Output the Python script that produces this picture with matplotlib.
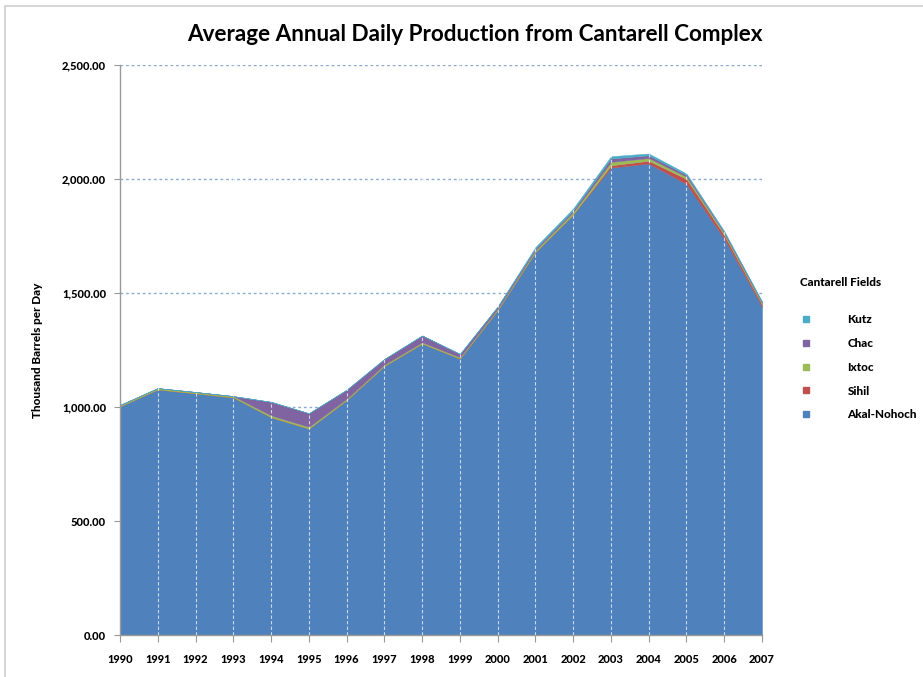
import numpy as np
import matplotlib.pyplot as plt
from matplotlib.lines import Line2D
from matplotlib.patches import Rectangle

plt.rcParams['font.family'] = ['Lato', 'DejaVu Sans']

years = list(range(1990, 2008))

# Thousand barrels per day by field
akal_nohoch = [1003, 1077, 1060, 1042, 955, 905, 1030, 1180, 1278, 1212,
               1425, 1680, 1845, 2050, 2068, 1978, 1738, 1440]
sihil = [0, 0, 0, 0, 0, 0, 0, 0, 0, 0, 0, 0, 0, 10, 12, 22, 16, 10]
ixtoc = [6, 6, 6, 6, 8, 8, 6, 6, 6, 6, 6, 8, 10, 15, 12, 10, 8, 6]
chac = [0, 0, 0, 0, 60, 60, 40, 25, 30, 15, 10, 8, 8, 15, 12, 8, 5, 4]
kutz = [0, 0, 0, 0, 0, 0, 0, 0, 0, 0, 0, 6, 8, 10, 8, 6, 4, 3]

fields = ['Akal-Nohoch', 'Sihil', 'Ixtoc', 'Chac', 'Kutz']
colors = ['#4F81BD', '#C0504D', '#9BBB59', '#8064A2', '#4BACC6']
yticks = [0, 500, 1000, 1500, 2000, 2500]

fig = plt.figure(figsize=(9.23, 6.77), dpi=100)
ax = fig.add_axes([0.130, 0.062, 0.6956, 0.842])

# light outer frame
fig.patches.append(Rectangle((5 / 923, -0.05), 1.2, 1.05 - 6 / 677,
                             transform=fig.transFigure, fill=False,
                             edgecolor='#cfcfcf', linewidth=1.2))

ax.stackplot(years, akal_nohoch, sihil, ixtoc, chac, kutz,
             colors=colors, linewidth=0.3, edgecolor='face', zorder=2)

ax.set_xlim(1990, 2007)
ax.set_ylim(0, 2500)

# horizontal dotted gridlines behind the areas
for y in yticks[1:]:
    ax.axhline(y, color='#8aaad4', linestyle=(0, (2, 2)), linewidth=1.0, zorder=1)

# white dashed year lines over the areas
for yr in years[1:-1]:
    ax.axvline(yr, color='white', linestyle=(0, (3, 2)), linewidth=0.8,
               alpha=0.7, zorder=3)

ax.set_xticks(years)
ax.set_xticklabels([str(y) for y in years], fontsize=8, fontweight='black')
ax.set_yticks(yticks)
ax.set_yticklabels([f'{v:,.2f}' for v in yticks], fontsize=8, fontweight='black')
ax.tick_params(axis='x', length=5, color='#999999', pad=9)
ax.tick_params(axis='y', length=4, color='#999999', pad=6)

for side in ['top', 'right']:
    ax.spines[side].set_visible(False)
for side in ['left', 'bottom']:
    ax.spines[side].set_color('#999999')
    ax.spines[side].set_linewidth(1.0)
ax.spines['left'].set_zorder(4)

ax.set_ylabel('Thousand Barrels per Day', fontsize=8.5, fontweight='black', labelpad=14)
fig.text(0.515, 0.949, 'Average Annual Daily Production from Cantarell Complex',
         ha='center', va='center', fontsize=16.2, fontweight='bold')

handles = [Line2D([0], [0], marker='s', linestyle='none', markersize=5,
                  markerfacecolor=c, markeredgecolor=c)
           for c in colors[::-1]]
leg = fig.legend(handles, fields[::-1], loc='upper left',
                 bbox_to_anchor=(0.862, 0.598), frameon=False,
                 title='Cantarell Fields', prop={'size': 8.5, 'weight': 'black'},
                 title_fontproperties={'size': 8.5, 'weight': 'black'},
                 handletextpad=3.0, labelspacing=1.08, alignment='left',
                 handlelength=1.0, borderaxespad=0)
leg._legend_box.sep = 19

fig.savefig('out.png', dpi=100)
